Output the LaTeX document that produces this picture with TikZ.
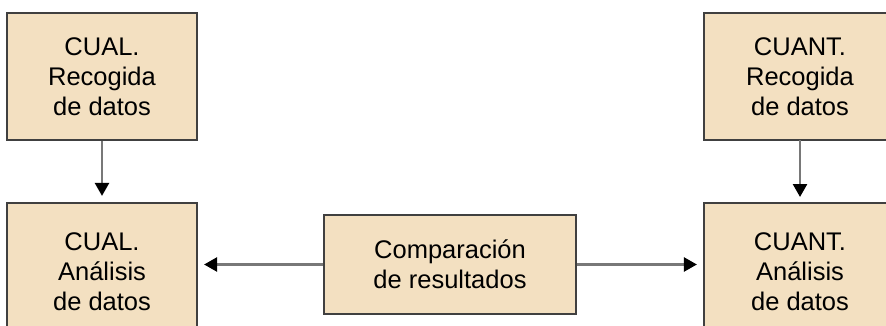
\documentclass[tikz,border=0pt]{standalone}
\usepackage{fontspec}
\setmainfont{Liberation Sans}
\usetikzlibrary{arrows.meta}
\definecolor{boxfill}{RGB}{243,224,193}
\definecolor{boxline}{RGB}{64,64,64}
\definecolor{arrline}{RGB}{120,120,120}
\tikzset{
  stagebox/.style={draw=boxline, line width=2.2pt, fill=boxfill, align=center,
    inner sep=0pt, font=\fontsize{25.5}{30}\selectfont},
  stagetext/.style={align=center, font=\fontsize{25.5}{30}\selectfont, inner sep=0pt},
  flowarrow/.style={draw=arrline, line width=2.5pt,
    -{Triangle[length=13pt,width=14pt,color=black]}, shorten >=6pt}
}
\begin{document}
\begin{tikzpicture}[x=1pt,y=-1pt]
\useasboundingbox (0,0) rectangle (886,326);
\clip (0,0) rectangle (886,326);
\node[stagebox, minimum width=190pt, minimum height=127pt] (qlr) at (102,76.5) {CUAL.\\Recogida\\de datos};
\node[stagebox, minimum width=190pt, minimum height=138pt] (qla) at (102,272) {};
\node[stagetext] at (102,272) {CUAL.\\Análisis\\de datos};
\node[stagebox, minimum width=196pt, minimum height=127pt] (qnr) at (802,76.5) {};
\node[stagetext] at (800,76.5) {CUANT.\\Recogida\\de datos};
\node[stagebox, minimum width=196pt, minimum height=138pt] (qna) at (802,272) {};
\node[stagetext] at (800,272) {CUANT.\\Análisis\\de datos};
\node[stagebox, minimum width=252pt, minimum height=99pt] (cmp) at (450,264.5) {Comparación\\de resultados};
\draw[flowarrow] (qlr.south) -- (qla.north);
\draw[flowarrow] (800,140) -- (800,203);
\draw[flowarrow] (cmp.west) -- (qla.east |- cmp.west);
\draw[flowarrow] (cmp.east) -- (qna.west |- cmp.east);
\end{tikzpicture}
\end{document}
